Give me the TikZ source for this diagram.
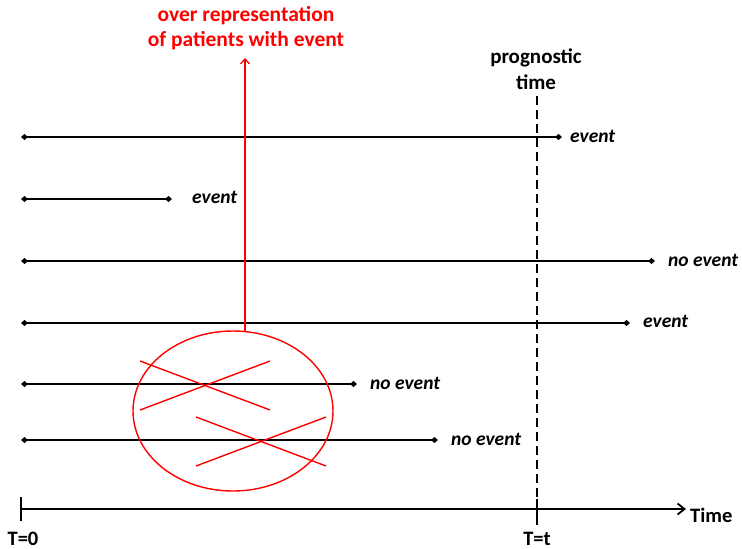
\documentclass[tikz,border=0pt]{standalone}
\usepackage{fontspec}
\setmainfont{Carlito}
\usetikzlibrary{arrows.meta}
\begin{document}
\begin{tikzpicture}[x=1pt,y=-1pt,
  patline/.style={line width=2.2pt,{Diamond[length=7pt,width=6pt]}-{Diamond[length=7pt,width=6pt]}},
  lbl/.style={anchor=west,font=\fontsize{19.5}{23}\selectfont\bfseries\itshape,inner sep=0pt},
  axlbl/.style={font=\fontsize{20.5}{24}\selectfont\bfseries,inner sep=0pt},
  redc/.style={red,line width=1.4pt}]
\useasboundingbox (0,0) rectangle (742,549);
% patient lines
\coordinate (s1) at (21,137); \coordinate (e1) at (562,137);
\coordinate (s2) at (21,199); \coordinate (e2) at (172,199);
\coordinate (s3) at (21,261); \coordinate (e3) at (655,261);
\coordinate (s4) at (21,323); \coordinate (e4) at (630,323);
\coordinate (s5) at (21,384); \coordinate (e5) at (357,384);
\coordinate (s6) at (21,440); \coordinate (e6) at (438,440);
\foreach \i in {1,...,6} {\draw[patline] (s\i) -- (e\i);}
\node[lbl] (l1) at (570,136) {event};
\node[lbl] (l2) at (192,197) {event};
\node[lbl] (l3) at (668,260) {no event};
\node[lbl] (l4) at (643,321) {event};
\node[lbl] (l5) at (370,383) {no event};
\node[lbl] (l6) at (451,439) {no event};
% axis
\coordinate (a0) at (21,509); \coordinate (a1) at (686,509);
\draw[line width=1.9pt,-{Straight Barb[length=7pt,width=11pt,line width=1.8pt]}] (a0) -- (a1);
\draw[line width=1.9pt] (21,497) -- (21,521);
\node[axlbl,anchor=base] (t0) at (23,545) {T=0};
\node[axlbl,anchor=base] (tt) at (537,545) {T=t};
\node[axlbl,anchor=base west] (time) at (690,522) {Time};
% prognostic time
\coordinate (p0) at (537,96); \coordinate (p1) at (537,528);
\draw[line width=1.9pt,dash pattern=on 9pt off 5pt] (p0) -- (p1);
\draw[line width=1.9pt] (537,499) -- (537,523);
\node[align=center,font=\fontsize{21}{26}\selectfont\bfseries,inner sep=0pt] (pt) at (536,69) {prognostic\\time};
% red annotation
\node[red,align=center,font=\fontsize{21.5}{25}\selectfont\bfseries,inner sep=0pt] (over) at (246,28) {over representation\\of patients with event};
\draw[redc] (233,411) ellipse [x radius=100,y radius=80];
\coordinate (ar0) at (245,331); \coordinate (ar1) at (245,58);
\draw[red,line width=1.3pt,-{Straight Barb[length=5pt,width=9pt,line width=1.3pt]}] (ar0) -- (ar1);
\draw[redc] (140,361) -- (270,410);
\draw[redc] (140,410) -- (270,361);
\draw[redc] (196,417) -- (326,466);
\draw[redc] (196,466) -- (326,417);
\end{tikzpicture}
\end{document}
